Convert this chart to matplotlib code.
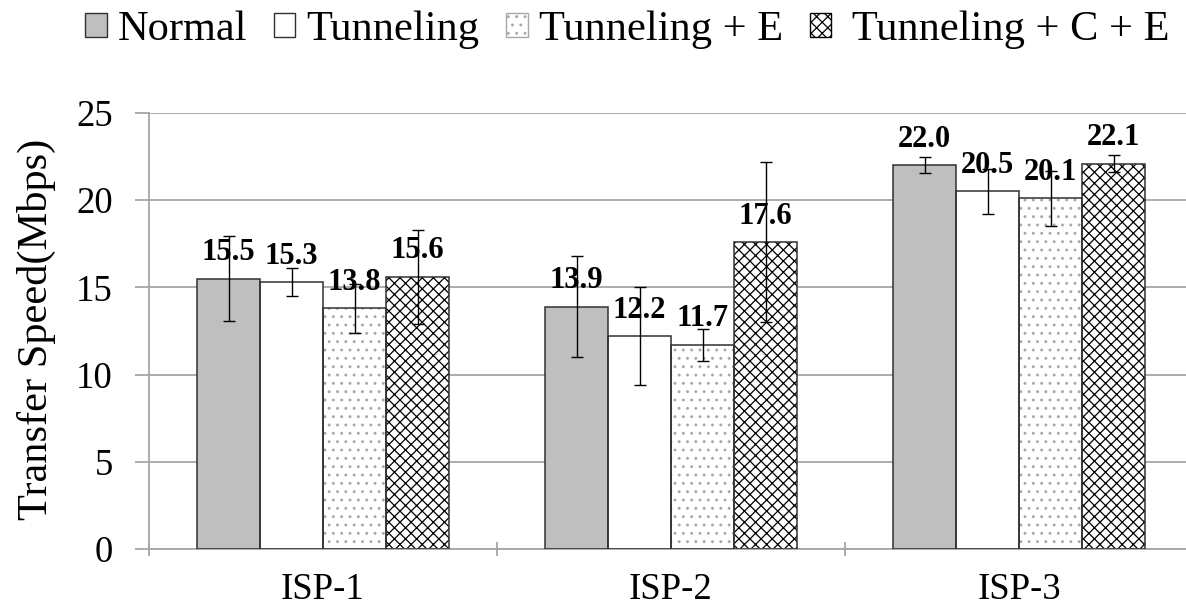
import numpy as np
import matplotlib
matplotlib.use('Agg')
import matplotlib.pyplot as plt

plt.rcParams['font.family'] = ['Liberation Serif', 'DejaVu Serif']
plt.rcParams['hatch.linewidth'] = 0.9

# data
groups = ['ISP-1', 'ISP-2', 'ISP-3']
series = ['Normal', 'Tunneling', 'Tunneling + E', 'Tunneling + C + E']
normal = [15.5, 13.9, 22.0]
tunneling = [15.3, 12.2, 20.5]
tunneling_e = [13.8, 11.7, 20.1]
tunneling_ce = [15.6, 17.6, 22.1]
err_normal = [2.45, 2.9, 0.45]
err_tunneling = [0.8, 2.8, 1.3]
err_tunneling_e = [1.4, 0.9, 1.6]
err_tunneling_ce = [2.7, 4.6, 0.5]

values = [normal, tunneling, tunneling_e, tunneling_ce]
errors = [err_normal, err_tunneling, err_tunneling_e, err_tunneling_ce]

fills = ['#bfbfbf', 'white', 'white', 'white']
hatches = [None, None, '..', 'xxx']
hatch_cols = ['#404040', '#404040', '#a8a8a8', 'black']
grid_col = '#a6a6a6'

fig = plt.figure(figsize=(11.86, 6.10), dpi=100)
ax = fig.add_axes([149 / 1186, 61 / 610, 1044 / 1186, 436 / 610])

w = 63 / 348
x = np.arange(len(groups)) + 0.5
handles = []
for j, (vals, errs) in enumerate(zip(values, errors)):
    pos = x + (j - 1.5) * w
    # fill + hatch first, then outline on top
    ax.bar(pos, vals, w, color=fills[j], hatch=hatches[j],
           edgecolor=hatch_cols[j], linewidth=0, zorder=2)
    ax.bar(pos, vals, w, fill=False, edgecolor='#303030', linewidth=1.1, zorder=3)
    ax.errorbar(pos, vals, yerr=errs, fmt='none', ecolor='black',
                elinewidth=1, capsize=4, capthick=1, zorder=4)
    for px, v in zip(pos, vals):
        ax.annotate('%.1f' % v, xy=(px, v), xytext=(0, 18.7),
                    textcoords='offset points', ha='center', va='center',
                    fontsize=22, fontweight='bold', zorder=5)
    handles.append(plt.Rectangle((0, 0), 1, 1, facecolor=fills[j], hatch=hatches[j],
                                 edgecolor=hatch_cols[j] if hatches[j] else '#303030',
                                 linewidth=1))

ax.set_xlim(0, 3)
ax.set_ylim(0, 25)
ax.set_yticks(np.arange(0, 26, 5))
ax.yaxis.grid(True, color=grid_col, linewidth=1.3, zorder=0)
ax.set_axisbelow(True)

ax.set_xticks([0, 1, 2, 3])
ax.set_xticklabels([])
ax.set_xticks(x, minor=True)
ax.set_xticklabels(groups, minor=True)
ax.tick_params(axis='x', which='major', length=10, color=grid_col, width=1.3, direction='inout')
ax.tick_params(axis='x', which='minor', length=0, pad=17, labelsize=26.5)
ax.tick_params(axis='y', length=10, color=grid_col, width=1.3, pad=16, labelsize=26.5)

for s in ['top', 'right']:
    ax.spines[s].set_visible(False)
for s in ['left', 'bottom']:
    ax.spines[s].set_color(grid_col)
    ax.spines[s].set_linewidth(1.3)

fig.text(36 / 1186, 1 - 329 / 610, 'Transfer Speed(Mbps)', rotation=90,
         ha='center', va='center', fontsize=30.5)

labels = list(series)
labels[3] = ' ' + labels[3]
fig.legend(handles, labels, loc='center left', bbox_to_anchor=(85 / 1186, 1 - 30 / 610),
           ncol=4, frameon=False, fontsize=30.5, borderpad=0, borderaxespad=0,
           handlelength=0.51, handleheight=0.51, handletextpad=0.26, columnspacing=0.63)

fig.savefig('out.png', dpi=100)
